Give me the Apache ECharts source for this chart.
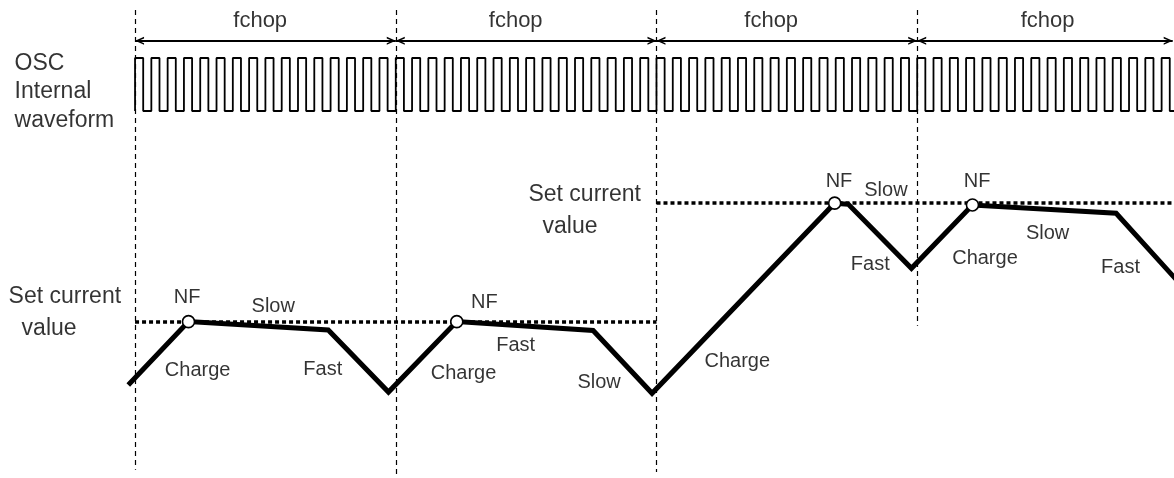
<!DOCTYPE html>
<html>
<head>
<meta charset="utf-8">
<title>fchop current waveform</title>
<script src="https://cdn.jsdelivr.net/npm/echarts@6/dist/echarts.min.js"></script>
<style>
    html, body { margin: 0; padding: 0; background: #fff; }
    #myChart { width: 1174px; height: 478px; }
</style>
</head>
<body>
<div id="myChart"></div>
<script>
/////////////////////////
// x: time in fchop periods (0 = first boundary), y: current in "set value" units
/////////////////////////

var timeMin = -0.518;
var timeMax = 3.985;
var levelMin = -0.64;
var levelMax = 7.43;

// fchop boundaries (dashed verticals)
var chopBounds = [0, 1, 2, 3];
var chopBoundTop = 7.26;
var chopBoundBottom = [-0.5, -0.64, -0.54, 1.93];

// fchop arrows + labels
var arrowLevel = 6.74;
var arrowFrom = [0, 1, 2, 3];
var arrowTo = [1, 2, 3, 3.98];
var chopLabelX = [0.48, 1.46, 2.44, 3.50];
var chopLabelY = 7.075;

// OSC internal clock
var oscCyclesPerChop = 16;
var oscCycles = 66;

// set current value levels
var setLevel = [2, 4];
var setFrom = [0, 2];
var setTo = [2, 3.985];

// coil current trace
var currentT = [-0.026, 0.205, 0.741, 0.972, 1.234, 1.757, 1.983, 2.6835, 2.736, 2.978, 3.212, 3.763, 4.008];
var currentI = [0.93, 2.0, 1.86, 0.81, 2.0, 1.85, 0.79, 4.0, 3.98, 2.9, 3.97, 3.83, 2.64];
var nfIndex = [1, 4, 7, 10];

// phase labels
var phaseNames = ['NF', 'Slow', 'Charge', 'Fast', 'NF', 'Fast', 'Charge', 'Slow', 'Charge', 'NF', 'Slow', 'Fast', 'NF', 'Charge', 'Slow', 'Fast'];
var phaseX = [0.20, 0.53, 0.24, 0.72, 1.34, 1.46, 1.26, 1.78, 2.31, 2.70, 2.88, 2.82, 3.23, 3.26, 3.50, 3.78];
var phaseY = [2.41, 2.25, 1.18, 1.20, 2.33, 1.60, 1.12, 0.98, 1.32, 4.36, 4.21, 2.96, 4.36, 3.07, 3.48, 2.92];

// side labels (left aligned)
var sideNames = ['OSC', 'Internal', 'waveform', 'Set current', 'value', 'Set current', 'value'];
var sideX = [-0.464, -0.464, -0.464, -0.487, -0.437, 1.507, 1.561];
var sideY = [6.35, 5.89, 5.40, 2.42, 1.88, 4.14, 3.60];

/////////////////////////

var FONT = "'Liberation Sans', Arial, sans-serif";
var myChart;

function oscData() {
    var p = 1 / oscCyclesPerChop;
    var d = [[0, 0]];
    for (var i = 0; i < oscCycles; i++) {
        d.push([i * p, 1]);
        d.push([(i + 0.5) * p, 0]);
    }
    return d;
}

function zipPoints(xs, ys) {
    var d = [];
    for (var i = 0; i < xs.length; i++) {
        d.push([xs[i], ys[i]]);
    }
    return d;
}

function labelData(names, xs, ys) {
    var d = [];
    for (var i = 0; i < names.length; i++) {
        d.push({ name: names[i], value: [xs[i], ys[i]] });
    }
    return d;
}

function makeOption() {
    var bounds = chopBounds.map(function (x, i) {
        return { coords: [[x, chopBoundTop], [x, chopBoundBottom[i]]] };
    });
    var arrows = arrowFrom.map(function (x, i) {
        return { coords: [[x, arrowLevel], [arrowTo[i], arrowLevel]] };
    });
    var setLines = setLevel.map(function (y, i) {
        return { coords: [[setFrom[i], y], [setTo[i], y]] };
    });
    var nfPoints = nfIndex.map(function (k) {
        return [currentT[k], currentI[k]];
    });
    var chopLabels = chopLabelX.map(function (x) {
        return { name: 'fchop', value: [x, chopLabelY] };
    });

    var hidden = { show: false };
    // open arrow head in a square 20x20 box, tip at the box centre so it ends on the line end
    var chevron = 'path://M10,10L14,19L12.4,19L10,13.6L7.6,19L6,19Z'
        + 'M0,0L0.01,0L0,0.01Z'
        + 'M20,20L19.99,20L20,19.99Z';

    return {
        animation: false,
        backgroundColor: '#fff',
        grid: [
            { left: 0, right: 0, top: 58, height: 53 },
            { left: 0, right: 0, top: 0, bottom: 0 }
        ],
        xAxis: [
            { type: 'value', gridIndex: 0, min: timeMin, max: timeMax, axisLine: hidden, axisTick: hidden, axisLabel: hidden, splitLine: hidden },
            { type: 'value', gridIndex: 1, min: timeMin, max: timeMax, axisLine: hidden, axisTick: hidden, axisLabel: hidden, splitLine: hidden }
        ],
        yAxis: [
            { type: 'value', gridIndex: 0, min: 0, max: 1, axisLine: hidden, axisTick: hidden, axisLabel: hidden, splitLine: hidden },
            { type: 'value', gridIndex: 1, min: levelMin, max: levelMax, axisLine: hidden, axisTick: hidden, axisLabel: hidden, splitLine: hidden }
        ],
        series: [
            {
                name: 'osc',
                type: 'line',
                xAxisIndex: 0,
                yAxisIndex: 0,
                step: 'end',
                showSymbol: false,
                symbol: 'none',
                clip: true,
                lineStyle: { color: '#000', width: 1.8 },
                data: oscData()
            },
            {
                name: 'bounds',
                type: 'lines',
                coordinateSystem: 'cartesian2d',
                xAxisIndex: 1,
                yAxisIndex: 1,
                symbol: 'none',
                lineStyle: { color: '#000', width: 1.2, type: [5, 4], opacity: 1 },
                data: bounds
            },
            {
                name: 'arrows',
                type: 'lines',
                coordinateSystem: 'cartesian2d',
                xAxisIndex: 1,
                yAxisIndex: 1,
                symbol: [chevron, chevron],
                symbolSize: 20,
                lineStyle: { color: '#000', width: 1.8, opacity: 1 },
                data: arrows
            },
            {
                name: 'setValue',
                type: 'lines',
                coordinateSystem: 'cartesian2d',
                xAxisIndex: 1,
                yAxisIndex: 1,
                symbol: 'none',
                lineStyle: { color: '#000', width: 3.5, type: [4, 3], opacity: 1 },
                data: setLines
            },
            {
                name: 'current',
                type: 'line',
                xAxisIndex: 1,
                yAxisIndex: 1,
                symbol: 'none',
                clip: true,
                lineStyle: { color: '#000', width: 5, join: 'miter', cap: 'butt' },
                data: zipPoints(currentT, currentI),
                z: 3
            },
            {
                name: 'NF',
                type: 'scatter',
                xAxisIndex: 1,
                yAxisIndex: 1,
                symbol: 'circle',
                symbolSize: 12,
                itemStyle: { color: '#fff', borderColor: '#000', borderWidth: 1.6, opacity: 1 },
                data: nfPoints,
                z: 4
            },
            {
                name: 'chopLabels',
                type: 'scatter',
                xAxisIndex: 1,
                yAxisIndex: 1,
                symbolSize: 1,
                itemStyle: { color: 'rgba(0,0,0,0)' },
                label: {
                    show: true, position: 'inside', formatter: '{b}',
                    color: '#000', fontSize: 22, fontFamily: FONT
                },
                data: chopLabels
            },
            {
                name: 'phaseLabels',
                type: 'scatter',
                xAxisIndex: 1,
                yAxisIndex: 1,
                symbolSize: 1,
                itemStyle: { color: 'rgba(0,0,0,0)' },
                label: {
                    show: true, position: 'inside', formatter: '{b}',
                    color: '#000', fontSize: 20, fontFamily: FONT
                },
                data: labelData(phaseNames, phaseX, phaseY)
            },
            {
                name: 'sideLabels',
                type: 'scatter',
                xAxisIndex: 1,
                yAxisIndex: 1,
                symbolSize: 1,
                itemStyle: { color: 'rgba(0,0,0,0)' },
                label: {
                    show: true, position: 'right', distance: 0, formatter: '{b}',
                    color: '#000', fontSize: 23, fontFamily: FONT
                },
                data: labelData(sideNames, sideX, sideY)
            }
        ]
    };
}

function init() {
    myChart = echarts.init(document.getElementById('myChart'));
    myChart.setOption(makeOption());
}

init();
</script>
</body>
</html>
